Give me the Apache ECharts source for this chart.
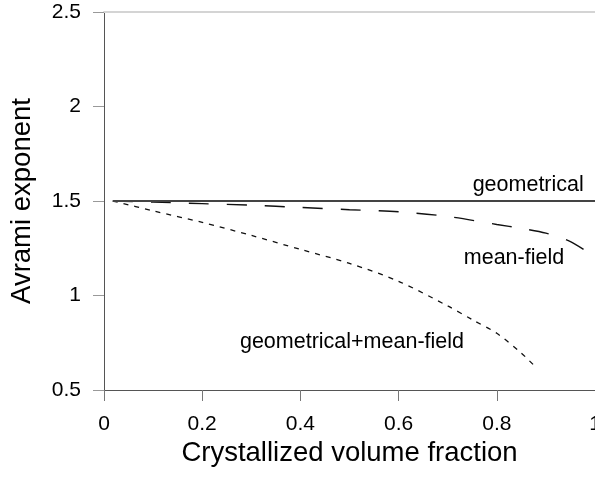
<!DOCTYPE html>
<html>
<head>
<meta charset="utf-8">
<script src="https://cdn.jsdelivr.net/npm/echarts@6/dist/echarts.min.js"></script>
<style>
  html, body { margin: 0; padding: 0; background: #fff; }
  #chart { width: 595px; height: 477px; }
</style>
</head>
<body>
<div id="chart"></div>
<script>
// Avrami exponent vs crystallized volume fraction for three growth models
const xTicks = [0, 0.2, 0.4, 0.6, 0.8, 1];
const yTicks = [0.5, 1, 1.5, 2, 2.5];

const geomX = [0.018, 1.0];
const geomY = [1.5, 1.5];

const meanFieldX = [0.018, 0.1, 0.2, 0.3, 0.4, 0.5, 0.6, 0.7, 0.8, 0.85, 0.9, 0.95, 0.989];
const meanFieldY = [1.5, 1.494, 1.486, 1.478, 1.466, 1.454, 1.443, 1.418, 1.376, 1.355, 1.33, 1.285, 1.222];

const bothX = [0.018, 0.1, 0.2, 0.3, 0.4, 0.5, 0.6, 0.7, 0.75, 0.8, 0.85, 0.877];
const bothY = [1.5, 1.448, 1.387, 1.318, 1.244, 1.17, 1.075, 0.945, 0.872, 0.80, 0.695, 0.627];

const curveLabels = [
  { text: 'geometrical', x: 0.864, y: 1.585 },
  { text: 'mean-field', x: 0.835, y: 1.2 },
  { text: 'geometrical+mean-field', x: 0.505, y: 0.755 }
];

const pairs = (xs, ys) => xs.map((x, i) => [x, ys[i]]);
const FONT = '"Liberation Sans", Arial, sans-serif';

const chart = echarts.init(document.getElementById('chart'), null, { renderer: 'canvas' });

chart.setOption({
  animation: false,
  backgroundColor: '#ffffff',
  grid: { left: 104, right: 0, top: 12, bottom: 87, containLabel: false, outerBoundsMode: 'none' },
  xAxis: [{
    type: 'value',
    min: xTicks[0],
    max: xTicks[xTicks.length - 1],
    interval: 0.2,
    name: 'Crystallized volume fraction',
    nameLocation: 'middle',
    nameGap: 49,
    nameTextStyle: { fontFamily: FONT, fontSize: 27.5, color: '#000' },
    axisLine: { show: true, onZero: false, lineStyle: { color: '#555', width: 1 } },
    axisTick: { show: true, inside: false, length: 11, lineStyle: { color: '#777', width: 1 } },
    axisLabel: { fontFamily: FONT, fontSize: 21, color: '#000', margin: 24, showMinLabel: true, showMaxLabel: true },
    splitLine: { show: false }
  }, {
    type: 'value',
    position: 'top',
    min: xTicks[0],
    max: xTicks[xTicks.length - 1],
    axisLine: { show: true, lineStyle: { color: '#d4d4d4', width: 2 } },
    axisTick: { show: false },
    axisLabel: { show: false },
    splitLine: { show: false }
  }],
  yAxis: {
    type: 'value',
    min: yTicks[0],
    max: yTicks[yTicks.length - 1],
    interval: 0.5,
    name: 'Avrami exponent',
    nameLocation: 'middle',
    nameGap: 68,
    nameTextStyle: { fontFamily: FONT, fontSize: 27.5, color: '#000' },
    axisLine: { show: true, onZero: false, lineStyle: { color: '#555', width: 1 } },
    axisTick: { show: true, inside: false, length: 11, lineStyle: { color: '#999', width: 1 } },
    axisLabel: { fontFamily: FONT, fontSize: 21, color: '#000', margin: 23 },
    splitLine: { show: false }
  },
  series: [
    {
      name: 'geometrical',
      type: 'line',
      data: pairs(geomX, geomY),
      showSymbol: false,
      lineStyle: { color: '#444', width: 2, type: 'solid' },
      z: 3
    },
    {
      name: 'mean-field',
      type: 'line',
      data: pairs(meanFieldX, meanFieldY),
      smooth: 0.3,
      showSymbol: false,
      lineStyle: { color: '#111', width: 1.4, type: [20, 18] },
      z: 2
    },
    {
      name: 'geometrical+mean-field',
      type: 'line',
      data: pairs(bothX, bothY),
      smooth: 0.3,
      showSymbol: false,
      lineStyle: { color: '#111', width: 1.3, type: [5, 6] },
      z: 2
    }
  ]
});

// Curve annotations placed in data coordinates
chart.setOption({
  graphic: curveLabels.map(l => {
    const p = chart.convertToPixel({ gridIndex: 0 }, [l.x, l.y]);
    return {
      type: 'text',
      x: p[0],
      y: p[1],
      style: {
        text: l.text,
        fontFamily: FONT,
        fontSize: 21.5,
        fill: '#000',
        align: 'center',
        verticalAlign: 'middle'
      }
    };
  })
});
</script>
</body>
</html>
